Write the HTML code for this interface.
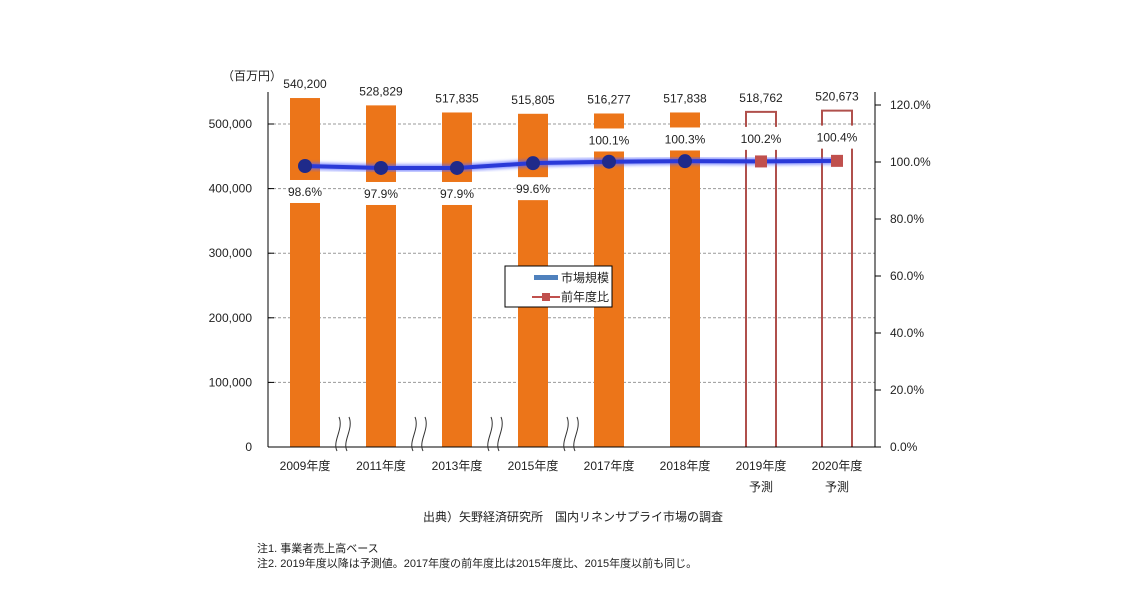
<!DOCTYPE html>
<html><head><meta charset="utf-8"><style>
body{margin:0;background:#fff;}
svg text{font-family:"Liberation Sans","Noto Sans CJK JP",sans-serif;fill:#222;}
</style></head><body>
<svg id="c" width="1140" height="600" xmlns="http://www.w3.org/2000/svg">
<defs><filter id="glow" x="-5%" y="-50%" width="110%" height="200%"><feGaussianBlur stdDeviation="1.5"/></filter></defs>
<g id="grid"></g><g id="bars"></g><g id="line"></g><g id="labels"></g><g id="axes"></g>
</svg>
<script>
const categories=["2009年度","2011年度","2013年度","2015年度","2017年度","2018年度","2019年度","2020年度"];
const subLabels=["","","","","","","予測","予測"];
const marketSize=[540200,528829,517835,515805,516277,517838,518762,520673];
const yoy=[98.6,97.9,97.9,99.6,100.1,100.3,100.2,100.4];
const forecast=[false,false,false,false,false,false,true,true];
const leftTicks=[0,100000,200000,300000,400000,500000];
const rightTicks=[0,20,40,60,80,100,120];
const labelBelow=[true,true,true,true,false,false,false,false];

const NS="http://www.w3.org/2000/svg";
const X0=268,X1=875,Y0=447;
const yL=v=>Y0-v*(323/500000);
const yR=v=>Y0-v*(342/120);
const xC=i=>305+i*76;
const BW=30;
function el(t,a,p){const e=document.createElementNS(NS,t);for(const k in a)e.setAttribute(k,a[k]);document.getElementById(p).appendChild(e);return e;}
function txt(s,a,p){const e=el('text',a,p);e.textContent=s;return e;}

leftTicks.forEach(v=>{
  if(v>0){const g=el('line',{x1:X0,x2:X1,y1:yL(v),y2:yL(v),stroke:'#999','stroke-dasharray':'3,2'},'grid');
  
  }
  const t=txt(v.toLocaleString('en-US'),{x:252,y:yL(v)+4,'text-anchor':'end','font-size':12},'axes');
  
  
  el('line',{x1:X0,x2:X0+6,y1:yL(v),y2:yL(v),stroke:'#000'},'axes');
});
rightTicks.forEach(v=>{
  el('line',{x1:X1,x2:X1+6,y1:yR(v),y2:yR(v),stroke:'#000'},'axes');
  const t=txt(v.toFixed(1)+'%',{x:890,y:yR(v)+4,'font-size':12},'axes');
  
  
});
el('line',{x1:X0,x2:X0,y1:92,y2:Y0,stroke:'#000'},'axes');
el('line',{x1:X1,x2:X1,y1:92,y2:Y0,stroke:'#000'},'axes');
el('line',{x1:X0,x2:X1,y1:Y0,y2:Y0,stroke:'#000'},'axes');
const u=txt('（百万円）',{x:222,y:80,'font-size':12},'axes');



categories.forEach((c,i)=>{
  const x=xC(i),top=yL(marketSize[i]);
  const dotY=yR(yoy[i]);
  const gapTop=labelBelow[i]?dotY+14:top+15;
  const gapBot=gapTop+23;
  if(!forecast[i]){
    const b=el('rect',{x:x-BW/2,y:top,width:BW,height:Y0-top,fill:'#ec7519'},'bars');
    
    
    el('rect',{x:x-BW/2-1,y:gapTop,width:BW+2,height:gapBot-gapTop,fill:'#fff'},'bars');
  } else {
    const p=el('path',{d:`M${x-BW/2},${gapTop}V${top}H${x+BW/2}V${gapTop}M${x-BW/2},${gapBot}V${Y0}M${x+BW/2},${gapBot}V${Y0}`,fill:'none',stroke:'#b0504c','stroke-width':2},'bars');
    
    
  }
  const v=txt(marketSize[i].toLocaleString('en-US'),{x:x,y:top-10,'text-anchor':'middle','font-size':12},'labels');
  
  
  const pl=txt(yoy[i].toFixed(1)+'%',{x:x,y:gapTop+16,'text-anchor':'middle','font-size':12},'labels');
  
  
  const xl=txt(c,{x:x,y:470,'text-anchor':'middle','font-size':12},'axes');
  
  
  if(subLabels[i]){const s=txt(subLabels[i],{x:x,y:491,'text-anchor':'middle','font-size':12},'axes');
  
  }
  if(i<4){const bx=x+38;
    const w=el('path',{d:`M${bx-6},${Y0+4}c-5,-10 7,-22 2,-34M${bx+4},${Y0+4}c-5,-10 7,-22 2,-34`,fill:'none',stroke:'#333','stroke-width':1},'axes');
    
    }
});
let d='';yoy.forEach((v,i)=>{d+=(i?'L':'M')+xC(i)+','+yR(v);});
el('path',{d:d,fill:'none',stroke:'#5060ff','stroke-width':7,filter:'url(#glow)',opacity:0.7},'line');
const ln=el('path',{d:d,fill:'none',stroke:'#2a3ad8','stroke-width':4},'line');


yoy.forEach((v,i)=>{
  let m;
  if(forecast[i]) m=el('rect',{x:xC(i)-6,y:yR(v)-6,width:12,height:12,fill:'#c0504d'},'line');
  else m=el('circle',{cx:xC(i),cy:yR(v),r:7,fill:'#1f2a8a'},'line');
  
  
});
const lg=el('g',{},'labels');


lg.id='lg';
el('rect',{x:505,y:266,width:107,height:41,fill:'#fff',stroke:'#000'},'lg');
el('rect',{x:534,y:275,width:24,height:5,fill:'#4f81bd'},'lg');
const l1=txt('市場規模',{x:561,y:282,'font-size':12},'lg');


el('line',{x1:532,x2:560,y1:297,y2:297,stroke:'#c0504d','stroke-width':2},'lg');
el('rect',{x:542,y:293,width:8,height:8,fill:'#c0504d'},'lg');
const l2=txt('前年度比',{x:561,y:301,'font-size':12},'lg');


const src=txt('出典）矢野経済研究所　国内リネンサプライ市場の調査',{x:423,y:521,'font-size':12},'labels');


const n1=txt('注1.  事業者売上高ベース',{x:257,y:552,'font-size':11},'labels');


const n2=txt('注2.  2019年度以降は予測値。2017年度の前年度比は2015年度比、2015年度以前も同じ。',{x:257,y:567,'font-size':11},'labels');


</script>
</body></html>
